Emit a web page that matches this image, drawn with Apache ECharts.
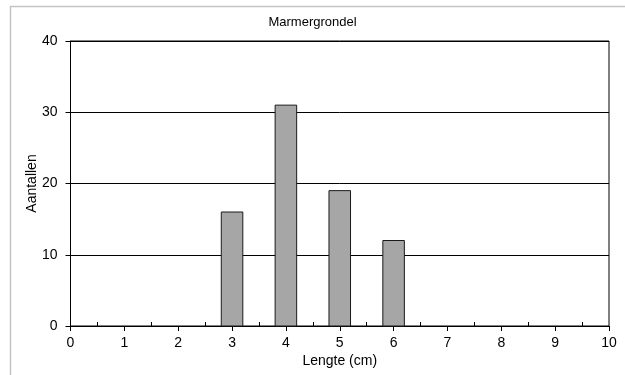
<!DOCTYPE html>
<html>
<head>
<meta charset="utf-8">
<script src="https://cdn.jsdelivr.net/npm/echarts@6/dist/echarts.min.js"></script>
<style>
  html, body { margin: 0; padding: 0; background: #fff; }
  #chart { width: 625px; height: 375px; }
</style>
</head>
<body>
<div id="chart"></div>
<script>
// Lengths (cm) and counts per length class
const lengths = [3, 4, 5, 6];
const counts = [16, 31, 19, 12];
const xTickValues = [0, 1, 2, 3, 4, 5, 6, 7, 8, 9, 10];
const xMinorTicks = [0.5, 1.5, 2.5, 3.5, 4.5, 5.5, 6.5, 7.5, 8.5, 9.5];
const yTickValues = [0, 10, 20, 30, 40];

const FONT = 'Liberation Sans, Arial, sans-serif';
const BAR_HALF_WIDTH = 0.2; // bar width in axis units is 0.4

const chart = echarts.init(document.getElementById('chart'), null, { renderer: 'canvas' });

const option = {
  backgroundColor: '#fff',
  animation: false,
  title: {
    text: 'Marmergrondel',
    left: 'center',
    top: 11,
    textStyle: { fontFamily: FONT, fontSize: 13, fontWeight: 'normal', color: '#000' }
  },
  grid: {
    left: 70.5, right: 16, top: 41, bottom: 49,
    show: true, borderColor: '#000', borderWidth: 1, backgroundColor: '#fff'
  },
  xAxis: [
    {
      type: 'value', min: 0, max: 10, interval: 1,
      name: 'Lengte (cm)', nameLocation: 'middle', nameGap: 28, nameMoveOverlap: false,
      nameTextStyle: { fontFamily: FONT, fontSize: 14, color: '#000', verticalAlign: 'top' },
      axisLine: { show: true, lineStyle: { color: '#000', width: 1 } },
      axisTick: { show: true, inside: false, length: 5, lineStyle: { color: '#000' }, customValues: xTickValues },
      axisLabel: { fontFamily: FONT, fontSize: 14, color: '#000', margin: 10, customValues: xTickValues },
      splitLine: { show: false }
    },
    {
      type: 'value', min: 0, max: 10, interval: 0.5, position: 'bottom',
      axisLine: { show: false },
      axisTick: { show: true, inside: true, length: 4, lineStyle: { color: '#000' }, customValues: xMinorTicks },
      axisLabel: { show: false },
      splitLine: { show: false }
    }
  ],
  yAxis: {
    type: 'value', min: 0, max: 40, interval: 10,
    name: 'Aantallen', nameLocation: 'middle', nameGap: 31, nameRotate: 90, nameMoveOverlap: false,
    nameTextStyle: { fontFamily: FONT, fontSize: 14, color: '#000' },
    axisLine: { show: true, lineStyle: { color: '#000', width: 1 } },
    axisTick: { show: true, inside: false, length: 5, lineStyle: { color: '#000' }, customValues: yTickValues },
    axisLabel: { fontFamily: FONT, fontSize: 14, color: '#000', margin: 13, customValues: yTickValues },
    splitLine: { show: true, lineStyle: { color: '#000', width: 1 } }
  },
  graphic: [
    {
      type: 'polyline',
      silent: true,
      shape: { points: [[10.5, 375], [10.5, 6.5], [625, 6.5]] },
      style: { stroke: '#c4c4c4', lineWidth: 1.5, fill: null }
    }
  ],
  series: [
    {
      type: 'custom',
      xAxisIndex: 0,
      data: lengths.map((l, i) => [l, counts[i]]),
      renderItem: function (params, api) {
        const x = api.value(0);
        const y = api.value(1);
        const p0 = api.coord([x - BAR_HALF_WIDTH, 0]);
        const p1 = api.coord([x + BAR_HALF_WIDTH, y]);
        return {
          type: 'rect',
          shape: { x: p0[0], y: p1[1], width: p1[0] - p0[0], height: p0[1] - p1[1] },
          style: { fill: '#a6a6a6', stroke: '#1a1a1a', lineWidth: 1 }
        };
      }
    }
  ]
};

chart.setOption(option);
</script>
</body>
</html>
